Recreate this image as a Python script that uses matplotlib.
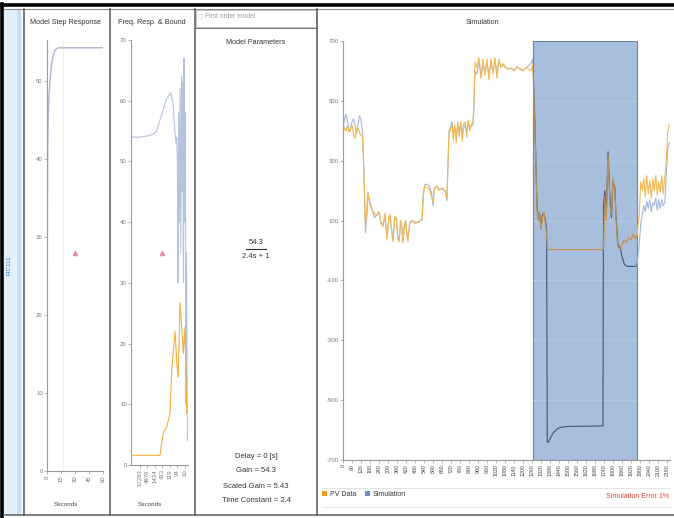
import matplotlib
matplotlib.use('Agg')
import matplotlib.pyplot as plt
from matplotlib.patches import Rectangle

plt.rcParams['font.family'] = ['Liberation Sans', 'DejaVu Sans']
plt.rcParams['axes.unicode_minus'] = False

W, H = 674, 518

# model step response
step_t = [0, 0.3, 0.7, 1.2, 2, 3.2, 4.5, 6, 8.6, 12, 15, 20, 30, 40, 50, 60]
step_y = [0, 25, 40, 45, 48, 50, 51.8, 53, 54, 54.3, 54.3, 54.3, 54.3, 54.3, 54.3, 54.3]
step_mark = (30, 28)

# frequency response and bound
freq_labels = ['17283', '4976', '1434', '413', '119', '34', '10']
freq_pos = [1, 2, 3, 4, 5, 6, 7]
resp_x = [-0.15, 1.0, 2.1, 2.8, 3.25, 3.6, 3.92, 4.3, 4.58, 5.11, 5.41, 5.68, 5.81, 5.9,
          6.0, 6.07, 6.15, 6.25, 6.34, 6.45, 6.55, 6.6, 6.7, 6.8, 6.87, 6.95, 7.05, 7.13, 7.2, 7.33]
resp_y = [54, 54, 54.2, 54.5, 55, 56.5, 57.7, 59.3, 60.4, 61.3, 59.6, 54.7, 53, 54,
          50, 30, 58, 40, 62, 35, 64, 45, 63, 30, 67, 40, 58, 10, 35, 4]
bound_x = [-0.15, 3.69, 4.13, 4.58, 5.02, 5.24, 5.68, 5.9, 6.11, 6.34, 6.56, 6.78, 7.0, 7.23]
bound_y = [1.6, 1.6, 5.3, 6.3, 8.5, 15.6, 22, 17, 14.5, 26.7, 22.7, 18.4, 22.7, 8.5]
freq_mark = (4, 35)

# simulation vs recorded PV
sim_t = [0, 10, 20, 30, 40, 50, 60, 70, 80, 90, 100, 110, 120, 130,
         140, 150, 160, 167, 180, 193, 210, 226, 240, 253, 267, 280, 293, 305, 313, 325,
         333, 345, 355, 365, 375, 384, 392, 400, 410, 418, 425, 433, 445, 460, 480, 500,
         515, 527, 535, 545, 560, 575, 590, 600, 610, 625, 640, 660, 680, 693, 700, 707,
         715, 727, 735, 745, 755, 765, 775, 785, 795, 805, 815, 825, 835, 845, 855, 867,
         873, 880, 893, 906, 920, 933, 946, 960, 973, 986, 1000, 1013, 1026, 1040, 1053,
         1066, 1080, 1100, 1120, 1140, 1160, 1180, 1200, 1220, 1240, 1255, 1265,
         1280, 1293, 1300, 1310, 1320, 1330, 1340, 1350, 1357, 1362, 1370, 1400, 1430,
         1460, 1500, 1600, 1733, 1737, 1745, 1755, 1767, 1780, 1790, 1800, 1813, 1820,
         1833, 1850, 1860, 1875, 1890, 1905, 1920, 1935, 1950, 1960, 1975, 1985, 1995,
         2005, 2015, 2025, 2035, 2045, 2055, 2065, 2075, 2085, 2095, 2105, 2115, 2125,
         2135, 2145, 2155, 2165, 2175]
pv_data = [390, 410, 400, 415, 395, 405, 420, 390, 375, 400, 410, 395, 385, 380,
           250, 80, 150, 190, 150, 135, 125, 115, 130, 90, 80, 125, 35, 110, 120, 60,
           30, 115, 105, 40, 30, 100, 75, 25, 85, 100, 55, 30, 95, 100, 90, 95,
           100, 105, 180, 215, 210, 205, 180, 160, 210, 215, 200, 210, 200, 175, 300, 390,
           400, 420, 370, 420, 360, 430, 380, 430, 365, 420, 430, 380, 435, 400, 420, 430,
           500, 630, 610, 645, 575, 640, 585, 640, 570, 640, 590, 645, 575, 640, 610,
           625, 615, 605, 610, 600, 615, 605, 600, 612, 605, 600, 625,
           400, 140, 100, 130, 70, 110, 130, 90, 60, 5, 3, 3, 3,
           3, 3, 3, 3, 5, 180, 100, 320, 150, 120, 240, 200, 100,
           10, 5, 20, 35, 25, 45, 35, 55, 40, 50, 120, 230, 200,
           240, 180, 250, 190, 235, 175, 240, 200, 250, 185, 230, 195, 250,
           190, 245, 300, 400, 420]
sim_data = [400, 440, 455, 430, 400, 405, 430, 440, 420, 390, 420, 450, 440, 400,
            260, 60, 120, 195, 160, 140, 110, 120, 127, 95, 85, 115, 40, 100, 117, 70,
            37, 105, 110, 50, 35, 100, 80, 30, 90, 95, 60, 40, 90, 100, 95, 93,
            100, 103, 190, 220, 222, 215, 195, 150, 205, 215, 205, 205, 200, 167, 290, 400,
            410, 430, 395, 410, 380, 420, 400, 425, 390, 420, 410, 400, 430, 410, 415, 420,
            480, 600, 590, 640, 580, 620, 600, 625, 585, 630, 600, 635, 590, 630, 615,
            620, 612, 608, 610, 603, 612, 608, 602, 610, 618, 628, 640,
            420, 150, 110, 125, 75, 120, 125, 100, 70, -640, -640, -610, -595,
            -590, -588, -587, -586, 150, 200, 120, 330, 170, 110, 230, 210, 110,
            20, 5, -20, -45, -52, -53, -53, -53, -53, -50, 20, 90, 120,
            150, 130, 165, 140, 170, 130, 160, 150, 175, 135, 170, 140, 170,
            150, 160, 250, 340, 360]
sim_ticks = list(range(0, 2161, 60))
sim_yticks = [-700, -500, -300, -100, 100, 300, 500, 700]
excluded = (1265, 1960)

fig = plt.figure(figsize=(W / 100, H / 100), dpi=100)

# pixel-space layer for frames and panel text
bg = fig.add_axes([0, 0, 1, 1])
bg.set_xlim(0, W)
bg.set_ylim(H, 0)
bg.axis('off')
bg.add_patch(Rectangle((4, 9), 18, 506, facecolor='#e3f0fa', edgecolor='none'))
bg.add_patch(Rectangle((17, 9), 4, 506, facecolor='#c6e0f3', edgecolor='none'))
bg.plot([0, W], [4.5, 4.5], color='black', lw=2.6)
bg.plot([1.5, 1.5], [4, H], color='black', lw=2.6)
bg.plot([4, W], [9, 9], color='#8a8a8a', lw=0.8)
bg.plot([4, W], [515, 515], color='#6a6a6a', lw=1.2)
for x in (24, 109.5, 195, 317):
    bg.plot([x, x], [9, 515], color='#555555', lw=1.1)
bg.text(9, 265, 'FIC111', rotation=90, ha='center', va='center', fontsize=4.5, color='#3b7fc4')

bg.text(66, 22, 'Model Step Response', ha='center', va='center', fontsize=5.2, color='#333')
bg.text(152, 22, 'Freq. Resp. & Bound', ha='center', va='center', fontsize=5.2, color='#333')
bg.text(66, 505, 'Seconds', ha='center', va='center', fontsize=4.5, color='#444')
bg.text(150, 505, 'Seconds', ha='center', va='center', fontsize=4.5, color='#444')

bg.add_patch(Rectangle((196, 10), 120, 17, facecolor='white', edgecolor='#bbbbbb', lw=0.6))
bg.add_patch(Rectangle((198, 14), 4, 4, facecolor='white', edgecolor='#dddddd', lw=0.5))
bg.plot([196, 317], [28, 28], color='#777777', lw=0.8)
bg.text(205, 16.5, 'First order model', ha='left', va='center', fontsize=4.8, color='#9a9a9a')
bg.text(256, 42, 'Model Parameters', ha='center', va='center', fontsize=5.2, color='#333')
bg.text(256, 242, '54.3', ha='center', va='center', fontsize=5.5, color='#333')
bg.plot([246, 266], [249, 249], color='#333', lw=0.8)
bg.text(256, 256, '2.4s + 1', ha='center', va='center', fontsize=5.5, color='#333')
params = ['Delay = 0 [s]', 'Gain = 54.3', 'Scaled Gain = 5.43', 'Time Constant = 2.4']
for i, s in enumerate(params):
    bg.text(256, 456 + 15 * i, s, ha='center', va='center', fontsize=5.5, color='#333')

bg.text(483, 22, 'Simulation', ha='center', va='center', fontsize=5.2, color='#333')
bg.plot([323, 670], [488, 488], color='#dddddd', lw=0.6)
bg.plot([323, 670], [507, 507], color='#dddddd', lw=0.6)
bg.add_patch(Rectangle((322, 491), 5, 5, facecolor='#f39c1f', edgecolor='none'))
bg.text(330, 495, 'PV Data', ha='left', va='center', fontsize=5, color='#333')
bg.add_patch(Rectangle((365, 491), 5, 5, facecolor='#6f8fbf', edgecolor='none'))
bg.text(373, 495, 'Simulation', ha='left', va='center', fontsize=5, color='#333')
bg.text(669, 496, 'Simulation Error 1%', ha='right', va='center', fontsize=5, color='#e8413c')


def px_axes(l, t, r, b):
    ax = fig.add_axes([l / W, 1 - b / H, (r - l) / W, (b - t) / H])
    ax.patch.set_alpha(0)
    for s in ('top', 'right'):
        ax.spines[s].set_visible(False)
    for s in ('left', 'bottom'):
        ax.spines[s].set_color('#9a9a9a')
        ax.spines[s].set_linewidth(0.8)
    ax.tick_params(length=2, width=0.5, color='#9a9a9a', labelsize=4.3,
                   labelcolor='#777777', pad=1)
    return ax


# step response
ax1 = px_axes(47, 40, 103, 471)
ax1.axvline(17.5, color='#fbf1d6', lw=0.8, zorder=1)
ax1.plot(step_t, step_y, color='#aab5d0', lw=1.0, zorder=2)
ax1.plot(*step_mark, marker='^', ms=3, color='#f08aa0', zorder=3)
ax1.set_xlim(0, 60)
ax1.set_ylim(0, 55.3)
ax1.set_xticks([0, 15, 30, 45, 60])
ax1.set_yticks([0, 10, 20, 30, 40, 50])
plt.setp(ax1.get_xticklabels(), rotation=90)

# frequency response
ax2 = px_axes(131, 40, 188, 465)
ax2.plot(resp_x, resp_y, color='#b4c4de', lw=0.8, zorder=2)
ax2.plot(bound_x, bound_y, color='#f6ad3c', lw=0.8, zorder=3)
ax2.plot(*freq_mark, marker='^', ms=3, color='#f08aa0', zorder=4)
ax2.set_xlim(-0.15, 7.4)
ax2.set_ylim(0, 70)
ax2.set_xticks(freq_pos)
ax2.set_xticklabels(freq_labels, rotation=90)
ax2.set_yticks(range(0, 71, 10))

# simulation
ax3 = px_axes(343, 41, 670, 460)
span = ax3.axvspan(*excluded, facecolor='#a8bedd', edgecolor='#6e84a6', lw=0.8, zorder=1)
for y in sim_yticks[1:-1]:
    g = ax3.axhline(y, color='#bccde6', lw=0.5, zorder=1.5)
    g.set_clip_path(span)
ax3.plot(sim_t, sim_data, color='#a3b7d8', lw=0.8, zorder=2)
ax3.plot(sim_t, pv_data, color='#f7b850', lw=0.8, zorder=2.5)
inner_sim, = ax3.plot(sim_t, sim_data, color='#42587c', lw=0.8, zorder=3)
inner_pv, = ax3.plot(sim_t, pv_data, color='#b8915a', lw=0.8, zorder=3.5)
inner_sim.set_clip_path(span)
inner_pv.set_clip_path(span)
ax3.set_xlim(0, 2180)
ax3.set_ylim(-700, 700)
ax3.set_xticks(sim_ticks)
ax3.set_xticklabels([str(t) for t in sim_ticks], rotation=90, fontsize=3.8, color='#444')
ax3.set_yticks(sim_yticks)

fig.savefig('out.png', dpi=100)
